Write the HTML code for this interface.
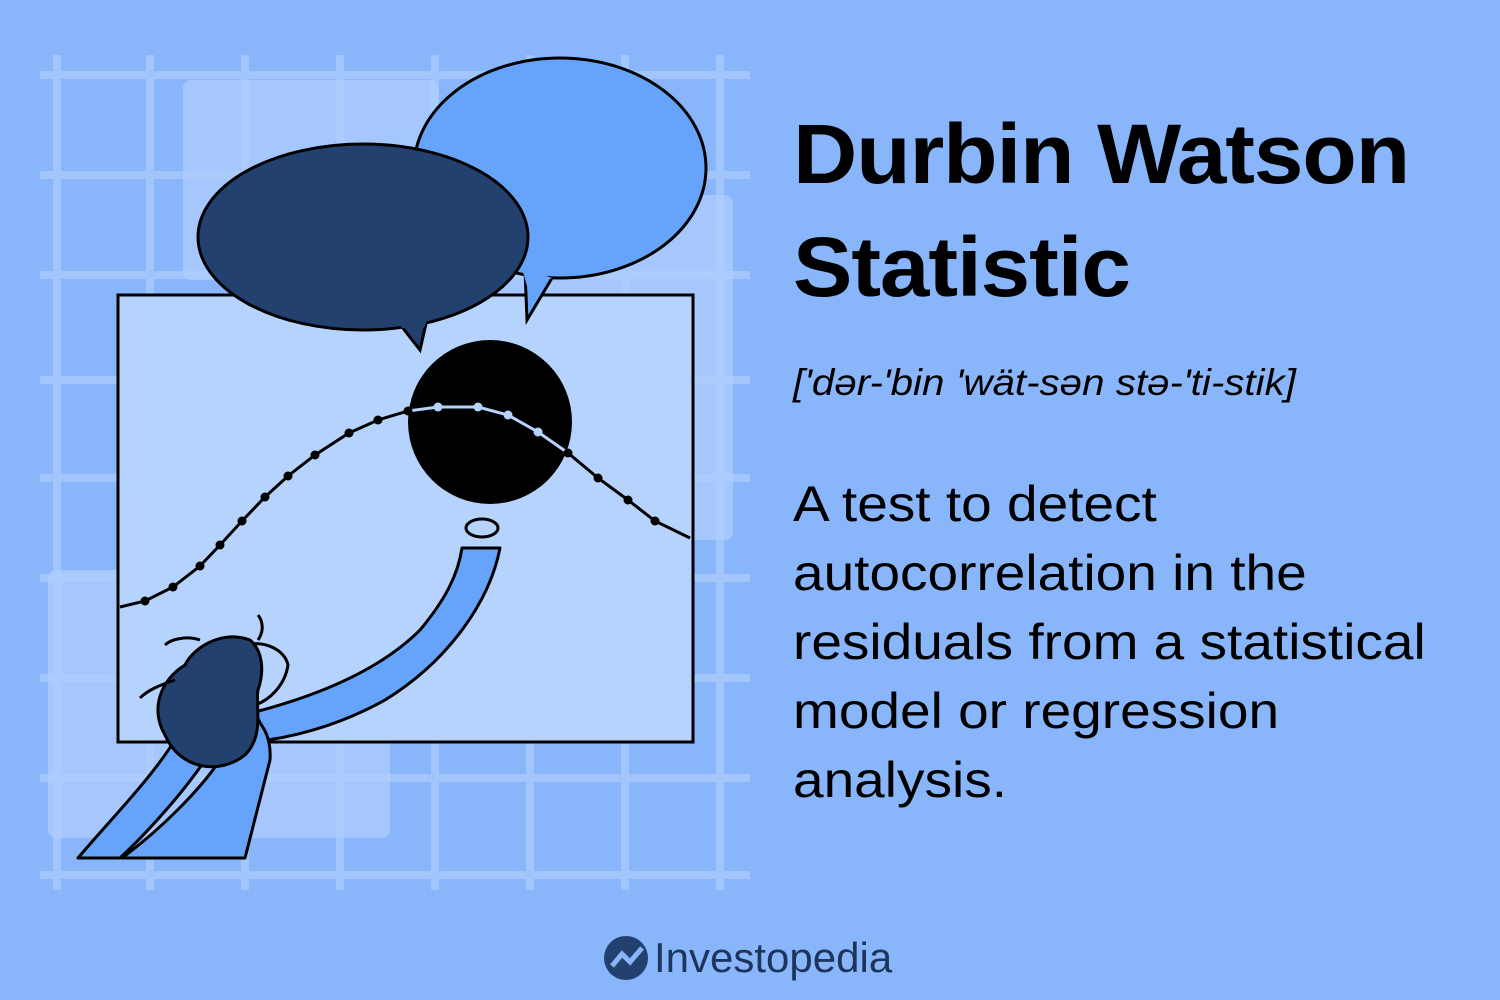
<!DOCTYPE html>
<html><head><meta charset="utf-8"><style>
html,body{margin:0;padding:0}
body{width:1500px;height:1000px;background:#89b5fb;position:relative;overflow:hidden;font-family:"Liberation Sans","DejaVu Sans",sans-serif;color:#000}
.t{position:absolute;left:793px;margin:0;transform-origin:0 0;white-space:nowrap}
</style></head><body>
<svg id="art" width="1500" height="1000" style="position:absolute;left:0;top:0">
<defs><clipPath id="cc"><circle cx="490" cy="422" r="82"/></clipPath></defs>
<g stroke="#a2c5fc" stroke-width="8" fill="none">
<line x1="57" y1="55" x2="57" y2="890"/><line x1="150" y1="55" x2="150" y2="890"/><line x1="245" y1="55" x2="245" y2="890"/><line x1="340" y1="55" x2="340" y2="890"/><line x1="435" y1="55" x2="435" y2="890"/><line x1="530" y1="55" x2="530" y2="890"/><line x1="625" y1="55" x2="625" y2="890"/><line x1="720" y1="55" x2="720" y2="890"/>
<line x1="40" y1="75" x2="750" y2="75"/><line x1="40" y1="175" x2="750" y2="175"/><line x1="40" y1="275" x2="750" y2="275"/><line x1="40" y1="380" x2="750" y2="380"/><line x1="40" y1="478" x2="750" y2="478"/><line x1="40" y1="578" x2="750" y2="578"/><line x1="40" y1="678" x2="750" y2="678"/><line x1="40" y1="778" x2="750" y2="778"/><line x1="40" y1="875" x2="750" y2="875"/>
</g>
<g fill="#b0cffd" opacity="0.7">
<rect x="183" y="80" width="255" height="200" rx="8"/><rect x="48" y="570" width="342" height="268" rx="8"/><rect x="490" y="195" width="243" height="345" rx="8"/>
</g>
<rect x="118" y="295" width="575" height="447" fill="#b6d3fd" stroke="#000" stroke-width="3"/>
<g>
<path d="M525,270 L527,320 L552,278 Z" fill="#66a3fb" stroke="#000" stroke-width="3"/>
<ellipse cx="560" cy="168" rx="146" ry="110" fill="#66a3fb" stroke="#000" stroke-width="3"/>
<path d="M522,268 L552,278 L528,290 Z" fill="#66a3fb"/>
</g>
<g>
<path d="M395,318 L420,350 L428,315 Z" fill="#22416f" stroke="#000" stroke-width="3"/>
<ellipse cx="363" cy="237" rx="165" ry="93" fill="#22416f" stroke="#000" stroke-width="3"/>
<path d="M392,312 L430,312 L424,328 L402,328 Z" fill="#22416f"/>
</g>
<circle cx="490" cy="422" r="82" fill="#000"/>
<ellipse cx="482" cy="528" rx="16" ry="9" fill="#b6d3fd" stroke="#000" stroke-width="3"/>
<g id="curve"></g>
<g stroke="#000" stroke-width="3" stroke-linejoin="round">
<path d="M462,548 L500,548 C490,600 450,660 385,700 C340,725 300,735 268,740 L255,712 C320,695 380,670 420,630 C445,600 458,575 462,548 Z" fill="#66a3fb"/>
<path d="M230,705 C255,710 272,730 270,760 L245,858 L122,858 C160,830 200,790 220,760 Z" fill="#66a3fb"/>
<path d="M175,740 C150,780 110,820 78,858 L120,858 C150,830 185,790 205,760 Z" fill="#66a3fb"/>
<path d="M245,645 C265,640 285,650 288,665 C285,685 270,700 255,705 Z" fill="#b6d3fd"/>
<path d="M250,640 C225,630 195,645 185,665 C160,680 150,710 165,735 C180,770 220,775 245,755 C265,735 255,705 258,690 C265,670 262,650 250,640 Z" fill="#22416f"/>
<path d="M200,640 C185,635 170,640 165,645 M258,640 C265,630 262,620 258,615 M175,680 C160,685 148,690 140,698" fill="none"/>
</g>
</svg>
<h1 class="t" style="top:98px;font-size:84px;line-height:113px;font-weight:bold;letter-spacing:-1px;transform:scaleX(1.06)">Durbin Watson<br>Statistic</h1>
<p class="t" style="top:362px;font-size:37px;font-style:italic;transform:scaleX(1.09)">['dər-'bin 'wät-sən stə-'ti-stik]</p>
<p class="t" style="top:470px;font-size:50px;line-height:69px;transform:scaleX(1.1)">A test to detect<br>autocorrelation in the<br>residuals from a statistical<br>model or regression<br>analysis.</p>
<div style="position:absolute;left:604px;top:934px;height:48px;display:flex;align-items:center">
<svg width="44" height="44"><circle cx="22" cy="22" r="22" fill="#22416f"/><path d="M8,30 L18,18 L26,26 L38,12" stroke="#89b5fb" stroke-width="5" fill="none"/></svg>
<span style="font-size:42px;color:#1d355a;margin-left:6px">Investopedia</span>
</div>
<script>
const xs=[120,145,173,200,220,242,265,288,315,349,378,408,438,478,508,538,568,598,628,655,690];
const ys=[607,601,587,566,545,521,497,476,455,433,420,411,407,407,415,432,453,478,500,521,538];
const g=document.getElementById('curve');
const NS='http://www.w3.org/2000/svg';
let d='';xs.forEach((x,i)=>{d+=(i?' L':'M')+x+','+ys[i];});
const p=document.createElementNS(NS,'path');
p.setAttribute('d',d);p.setAttribute('fill','none');p.setAttribute('stroke','#000');p.setAttribute('stroke-width','3');


g.appendChild(p);
const p2=document.createElementNS(NS,'path');
p2.setAttribute('d',d);p2.setAttribute('fill','none');p2.setAttribute('stroke','#b6d3fd');p2.setAttribute('stroke-width','3');
p2.setAttribute('clip-path','url(#cc)');


g.appendChild(p2);
xs.forEach((x,i)=>{
 if(i===0||i===xs.length-1)return;
 const c=document.createElementNS(NS,'circle');
 c.setAttribute('cx',x);c.setAttribute('cy',ys[i]);c.setAttribute('r',4.5);
 const inside=Math.hypot(x-490,ys[i]-422)<80;
 c.setAttribute('fill',inside?'#b6d3fd':'#000');
 
 
 g.appendChild(c);
});
</script>
</body></html>
